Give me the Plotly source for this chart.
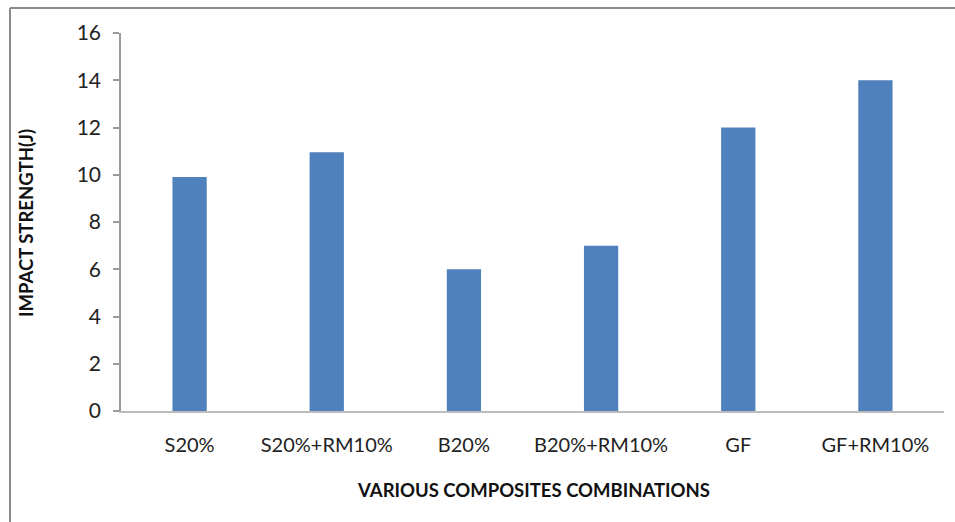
import plotly.graph_objects as go

categories = ["S20%", "S20%+RM10%", "B20%", "B20%+RM10%", "GF", "GF+RM10%"]
impact_strength = [9.9, 10.95, 6.0, 7.0, 12.0, 14.0]
y_ticks = [0, 2, 4, 6, 8, 10, 12, 14, 16]

W, H = 955, 522
L, R, T, B = 121, 11, 33, 111
pw, ph = W - L - R, H - T - B

def px_x(x):
    return (x - L) / pw

def px_y(y):
    return (H - B - y) / ph

font = "Lato, Carlito, 'Liberation Sans', sans-serif"

fig = go.Figure(go.Bar(
    x=categories, y=impact_strength,
    marker=dict(color="#4F81BD", line=dict(width=0)),
    width=0.25,
))

fig.update_layout(
    width=W, height=H,
    margin=dict(l=L, r=R, t=T, b=B, pad=0),
    paper_bgcolor="white", plot_bgcolor="white",
    showlegend=False,
    font=dict(family=font, color="#222", size=20),
    xaxis=dict(
        showgrid=False, showline=True, linecolor="#bcbcbc", linewidth=1.5,
        ticks="", ticklabelstandoff=15, range=[-0.5, 5.5],
        tickfont=dict(size=20),
    ),
    yaxis=dict(
        range=[0, 16], tickvals=y_ticks, showgrid=False, zeroline=False,
        showline=True, linecolor="#9a9a9a", linewidth=1.5,
        ticks="outside", ticklen=6, tickcolor="#9a9a9a", tickwidth=1.5,
        ticklabelstandoff=8, tickfont=dict(size=21),
    ),
    shapes=[
        dict(type="line", xref="paper", yref="paper",
             x0=px_x(10), x1=px_x(960), y0=px_y(8), y1=px_y(8),
             line=dict(color="#8a8a8a", width=2)),
        dict(type="line", xref="paper", yref="paper",
             x0=px_x(10), x1=px_x(10), y0=px_y(8), y1=px_y(530),
             line=dict(color="#8a8a8a", width=2)),
    ],
    annotations=[
        dict(text="<b>IMPACT STRENGTH(J)</b>", xref="paper", yref="paper",
             x=px_x(26), y=px_y(223), xanchor="center", yanchor="middle",
             textangle=-90, showarrow=False,
             font=dict(size=18.5, family=font, color="#111")),
        dict(text="<b>VARIOUS COMPOSITES COMBINATIONS</b>", xref="paper", yref="paper",
             x=px_x(533), y=px_y(490), xanchor="center", yanchor="middle",
             showarrow=False,
             font=dict(size=18.5, family=font, color="#111")),
    ],
)

fig.write_html("out.html")
